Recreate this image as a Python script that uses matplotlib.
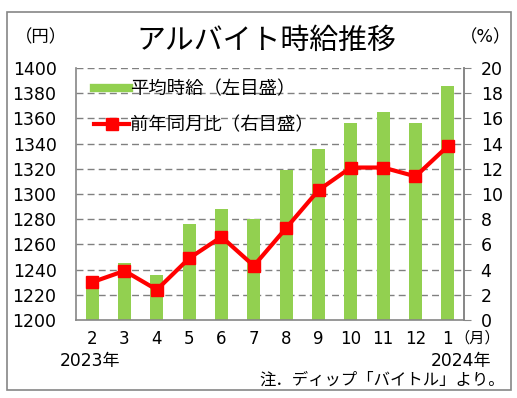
import matplotlib
matplotlib.use("Agg")
import matplotlib.pyplot as plt
from matplotlib.lines import Line2D
from matplotlib.patches import Rectangle
import numpy as np

plt.rcParams['font.family'] = ['DejaVu Sans', 'Noto Sans CJK JP']

months = ["2", "3", "4", "5", "6", "7", "8", "9", "10", "11", "12", "1"]
wage = [1231, 1245, 1236, 1276, 1288, 1280, 1319, 1336, 1356, 1365, 1356, 1386]
yoy = [3.0, 3.9, 2.4, 4.9, 6.6, 4.3, 7.3, 10.3, 12.1, 12.1, 11.4, 13.8]
left_ticks = list(range(1200, 1401, 20))
right_ticks = list(range(0, 21, 2))

W, H = 517, 398
fig = plt.figure(figsize=(W / 100, H / 100), dpi=100)

def fx(x):
    return x / W

def fy(y):
    return 1 - y / H

GREEN = "#92D050"
RED = "#FF0000"
GRAY = "#868686"

ax = fig.add_axes([fx(76), fy(320), fx(464) - fx(76), fy(68) - fy(320)])
x = np.arange(len(months))
ax.bar(x, [w - 1200 for w in wage], bottom=1200, width=0.4, color=GREEN, zorder=2)
ax.set_xlim(-0.5, len(months) - 0.5)
ax.set_ylim(1200, 1400)
ax.set_yticks(left_ticks)
ax.set_xticks(x)
ax.set_xticklabels(months)
ax.tick_params(axis='y', length=0, labelsize=12.5, pad=14)
ax.tick_params(axis='x', length=0, labelsize=12, pad=7)
for t in left_ticks[1:]:
    ax.axhline(t, color="#808080", lw=1, ls=(0, (5, 3)), zorder=1)
for s in ['left', 'bottom', 'right']:
    ax.spines[s].set_color(GRAY)
    ax.spines[s].set_linewidth(1.2)
ax.spines['top'].set_visible(False)

ax2 = ax.twinx()
ax2.plot(x, yoy, color=RED, lw=3, marker='s', markersize=8.5, zorder=3)
ax2.set_ylim(0, 20)
ax2.set_yticks(right_ticks)
ax2.tick_params(axis='y', length=5, color=GRAY, labelsize=12.5, pad=7)
for s in ['left', 'top', 'bottom']:
    ax2.spines[s].set_visible(False)
ax2.spines['right'].set_color(GRAY)
ax2.spines['right'].set_linewidth(1.2)

handles = [Line2D([], [], color=GREEN, lw=6),
           Line2D([], [], color=RED, lw=3, marker='s', markersize=8.5)]
labels = ["平均時給（左目盛）", "前年同月比（右目盛）"]
ax2.legend(handles, labels, loc='upper left', bbox_to_anchor=(0.0, 1.025),
           frameon=False, fontsize=13.2, handlelength=1.9, handletextpad=0.05,
           labelspacing=1.0, borderaxespad=0.6)

fig.text(fx(266), fy(41), "アルバイト時給推移", ha='center', va='center', fontsize=20.8)
fig.text(fx(41), fy(37), "（円）", ha='center', va='center', fontsize=12.5)
fig.text(fx(486), fy(37), "（%）", ha='center', va='center', fontsize=12.5)
fig.text(fx(454), fy(338), "（月）", ha='left', va='center', fontsize=11)
fig.text(fx(60), fy(361), "2023年", ha='left', va='center', fontsize=12.3)
fig.text(fx(491), fy(361), "2024年", ha='right', va='center', fontsize=12.3)
fig.text(fx(505), fy(380), "注．ディップ「バイトル」より。", ha='right', va='center', fontsize=11.8)

fig.patches.append(Rectangle((fx(7), fy(390)), fx(511) - fx(7), fy(12) - fy(390),
                             transform=fig.transFigure, fill=False, edgecolor=GRAY, lw=1.2))

fig.savefig("out.png", dpi=100)
